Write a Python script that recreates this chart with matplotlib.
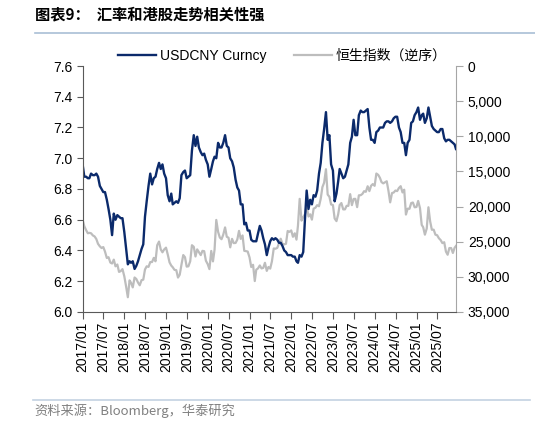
import numpy as np
import pandas as pd
import matplotlib
matplotlib.use('Agg')
import matplotlib.pyplot as plt
import matplotlib.dates as mdates
from matplotlib.ticker import FuncFormatter

plt.rcParams['font.family'] = ['Liberation Sans', 'Noto Sans CJK SC', 'DejaVu Sans']

# values sampled on the 15th and last day of each month, 2017/01 - 2025/11,
# plus the first print (2017-01-02) and the last print (2025-12-12)
first_date = '2017-01-02'
last_date = '2025-12-12'

usdcny_first = 6.95
usdcny = [
    # 2017
    6.88, 6.88, 6.87, 6.87, 6.90, 6.89, 6.89, 6.90, 6.88, 6.82, 6.80, 6.78,
    6.78, 6.73, 6.67, 6.60, 6.50, 6.64, 6.60, 6.63, 6.62, 6.61, 6.61, 6.52,
    # 2018
    6.42, 6.31, 6.33, 6.32, 6.33, 6.28, 6.30, 6.33, 6.37, 6.41, 6.44, 6.62,
    6.72, 6.82, 6.90, 6.83, 6.87, 6.88, 6.93, 6.97, 6.93, 6.96, 6.90, 6.87,
    # 2019
    6.76, 6.72, 6.77, 6.70, 6.71, 6.72, 6.71, 6.74, 6.89, 6.91, 6.92, 6.87,
    6.88, 6.89, 7.05, 7.15, 7.08, 7.14, 7.07, 7.04, 7.02, 7.03, 6.99, 6.96,
    # 2020
    6.88, 6.93, 6.98, 7.01, 7.00, 7.10, 7.07, 7.07, 7.10, 7.15, 7.08, 7.07,
    7.00, 6.98, 6.94, 6.86, 6.81, 6.79, 6.70, 6.70, 6.57, 6.58, 6.53, 6.53,
    # 2021
    6.47, 6.46, 6.46, 6.46, 6.51, 6.56, 6.53, 6.48, 6.44, 6.37, 6.42, 6.46,
    6.48, 6.47, 6.48, 6.47, 6.45, 6.45, 6.43, 6.40, 6.39, 6.37, 6.37, 6.37,
    # 2022
    6.36, 6.36, 6.33, 6.32, 6.37, 6.36, 6.39, 6.60, 6.79, 6.67, 6.73, 6.70,
    6.76, 6.75, 6.79, 6.90, 6.97, 7.10, 7.19, 7.30, 7.12, 7.15, 6.96, 6.92,
    # 2023
    6.72, 6.77, 6.85, 6.93, 6.90, 6.87, 6.88, 6.92, 6.96, 7.10, 7.14, 7.25,
    7.15, 7.15, 7.28, 7.31, 7.30, 7.30, 7.31, 7.32, 7.20, 7.12, 7.12, 7.10,
    # 2024
    7.17, 7.18, 7.20, 7.20, 7.20, 7.23, 7.24, 7.24, 7.23, 7.24, 7.26, 7.27,
    7.27, 7.20, 7.17, 7.10, 7.10, 7.02, 7.10, 7.12, 7.23, 7.24, 7.28, 7.30,
    # 2025 (to Nov)
    7.33, 7.25, 7.28, 7.29, 7.23, 7.26, 7.33, 7.27, 7.21, 7.19, 7.18, 7.17,
    7.17, 7.19, 7.19, 7.13, 7.11, 7.12, 7.12, 7.11, 7.10, 7.09,
]
usdcny_last = 7.06

hsi_first = 22000
hsi = [
    # 2017
    22800, 23360, 23800, 23740, 23800, 24110, 24250, 24615, 25300, 25660, 25900, 25760,
    26400, 27320, 27200, 27970, 28100, 27550, 28500, 28245, 29300, 29177, 28900, 29919,
    # 2018
    31300, 32900, 30500, 30845, 31500, 30093, 30300, 30808, 31200, 30469, 30400, 28955,
    28500, 28583, 27900, 27889, 27300, 27789, 25500, 24979, 26100, 26507, 26100, 25845,
    # 2019
    26800, 27942, 28400, 28633, 29000, 29051, 30100, 29699, 28300, 26901, 27200, 28543,
    28500, 27778, 25500, 25725, 27100, 26092, 26500, 26906, 26300, 26346, 27700, 28190,
    # 2020
    28900, 26313, 27800, 26130, 21900, 23603, 24400, 24643, 24000, 22961, 24300, 24427,
    25800, 24595, 25200, 25177, 24700, 23459, 24600, 24107, 26300, 26341, 26400, 27231,
    # 2021
    28600, 28284, 30600, 28980, 28800, 28378, 28800, 28725, 28000, 29152, 28600, 28828,
    27800, 25961, 26000, 25879, 25200, 24576, 25300, 25377, 25300, 23475, 23600, 23398,
    # 2022
    24300, 23802, 24700, 22713, 18900, 21997, 21500, 21089, 19900, 21415, 21100, 21860,
    20300, 20157, 19800, 19954, 18900, 17223, 16600, 14687, 18300, 18597, 19700, 19781,
    # 2023
    21700, 22069, 21100, 19786, 19500, 20400, 20400, 19895, 19900, 18234, 19800, 18916,
    18900, 20079, 18400, 18382, 18200, 17810, 17900, 17112, 17800, 17043, 16800, 17047,
    # 2024
    15300, 15485, 15900, 16511, 16700, 16541, 16400, 17763, 19400, 18079, 18000, 17719,
    17800, 17345, 17100, 17989, 17600, 21134, 20300, 20317, 19500, 19424, 20100, 20060,
    # 2025 (to Nov)
    19200, 20225, 22600, 22941, 24000, 23120, 20100, 22119, 23300, 23290, 24000, 24072,
    24500, 24773, 25200, 25077, 26400, 26856, 25900, 25907, 26600, 25858,
]
hsi_last = 25600

x_ticks = pd.date_range('2017-01-01', '2025-07-01', freq='6MS')

# sample dates
month_starts = pd.date_range('2017-01-01', '2025-11-01', freq='MS')
mids = month_starts + pd.Timedelta(days=14)
ends = month_starts + pd.offsets.MonthEnd(0)
dates = [pd.Timestamp(first_date)]
for m, e in zip(mids, ends):
    dates += [m, e]
dates.append(pd.Timestamp(last_date))

usd_series = [usdcny_first] + usdcny + [usdcny_last]
hsi_series = [hsi_first] + hsi + [hsi_last]

navy = '#0b2a6b'
grey = '#bdbdbd'

fig = plt.figure(figsize=(5.35, 4.25), dpi=100)
ax = fig.add_axes([0.1546, 0.2659, 0.8523 - 0.1546, 0.8447 - 0.2659])
ax2 = ax.twinx()

l1, = ax.plot(dates, usd_series, color=navy, lw=1.7, label='USDCNY Curncy')
l2, = ax2.plot(dates, hsi_series, color=grey, lw=1.6, label='恒生指数（逆序）')
ax.set_zorder(ax2.get_zorder() + 1)
ax.patch.set_visible(False)

ax.set_xlim(pd.Timestamp('2017-01-01'), pd.Timestamp(last_date))
ax.set_ylim(6.0, 7.6)
ax.set_yticks(np.arange(6.0, 7.61, 0.2))
ax.yaxis.set_major_formatter(FuncFormatter(lambda v, p: f'{v:.1f}'))
ax2.set_ylim(35000, 0)
ax2.set_yticks(np.arange(0, 35001, 5000))
ax2.yaxis.set_major_formatter(FuncFormatter(lambda v, p: f'{v:,.0f}'))

ax.set_xticks(x_ticks)
ax.xaxis.set_major_formatter(mdates.DateFormatter('%Y/%m'))
for lab in ax.get_xticklabels():
    lab.set_rotation(90)

for a in (ax, ax2):
    a.spines['top'].set_visible(False)
ax.spines['right'].set_visible(False)
ax2.spines['left'].set_visible(False)
ax2.spines['bottom'].set_visible(False)
ax.spines['left'].set_color('#595959')
ax.spines['bottom'].set_color('#595959')
ax2.spines['right'].set_color('#a6a6a6')
ax.tick_params(axis='both', colors='#595959', labelcolor='black', labelsize=10,
               direction='out', length=4, width=0.8)
ax.tick_params(axis='x', length=5, pad=2)
ax2.tick_params(axis='y', colors='#a6a6a6', labelcolor='black', labelsize=10,
                direction='out', length=5, width=0.8)

fig.legend(handles=[l1, l2], loc='center', bbox_to_anchor=(0.528, 0.868), ncol=2,
           frameon=False, fontsize=10, handlelength=2.7, handletextpad=0.3,
           columnspacing=2.0)

# title, rules and source
fig.text(0.065, 0.967, '图表9：  汇率和港股走势相关性强', fontsize=11, fontweight='bold',
         family=['Noto Sans CJK SC', 'DejaVu Sans'], va='center', ha='left')
fig.add_artist(plt.Line2D([0.065, 1.0], [0.922, 0.922], color='#a9bfd6', lw=1.2,
                          transform=fig.transFigure))
fig.add_artist(plt.Line2D([0.062, 0.99], [0.059, 0.059], color='#c4d2e2', lw=1.2,
                          transform=fig.transFigure))
fig.text(0.065, 0.033, '资料来源：Bloomberg，华泰研究', fontsize=9.5, color='#808080',
         family=['Noto Sans CJK SC', 'DejaVu Sans'], va='center', ha='left')

fig.savefig('out.png', dpi=100)
